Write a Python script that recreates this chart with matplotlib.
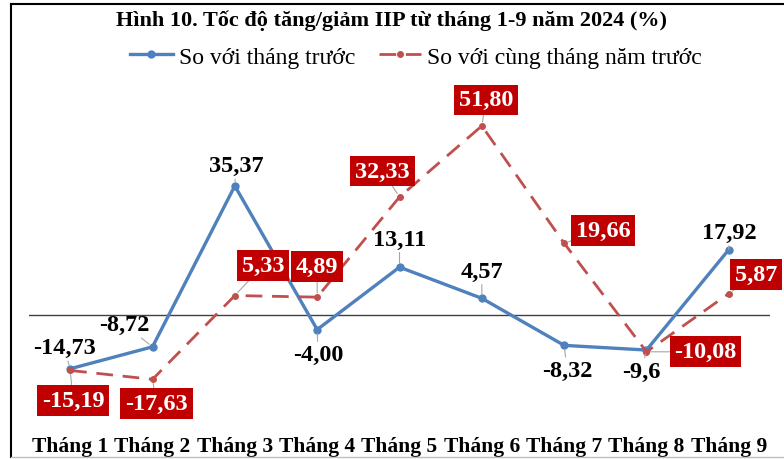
import matplotlib.pyplot as plt
from matplotlib.lines import Line2D

months = ["Tháng 1", "Tháng 2", "Tháng 3", "Tháng 4", "Tháng 5",
          "Tháng 6", "Tháng 7", "Tháng 8", "Tháng 9"]
mom = [-14.73, -8.72, 35.37, -4.00, 13.11, 4.57, -8.32, -9.6, 17.92]
yoy = [-15.19, -17.63, 5.33, 4.89, 32.33, 51.80, 19.66, -10.08, 5.87]
mom_labels = ["-14,73", "-8,72", "35,37", "-4,00", "13,11", "4,57", "-8,32", "-9,6", "17,92"]
yoy_labels = ["-15,19", "-17,63", "5,33", "4,89", "32,33", "51,80", "19,66", "-10,08", "5,87"]

# label offsets in pixels (dx, dy)
mom_off = [(-6, 21), (-28, 22), (1, 20), (1, -25), (0, 28), (0, 27), (3, -25), (-5, -21), (0, 17)]
yoy_off = [(3, -30), (4, -24), (28, 30), (0, 31), (-17, 26), (4, 26), (39, 13), (59, 0), (27, 19)]

blue = "#4F81BD"
red = "#C0504D"
serif = ["Liberation Serif", "DejaVu Serif"]

W, H = 784, 460
fig = plt.figure(figsize=(W / 100, H / 100), dpi=100)

# outer frame (left/top dark, bottom light)
fig.add_artist(Line2D([11 / W, 11 / W], [2 / H, 1 - 5 / H], color="black", lw=1.5, transform=fig.transFigure))
fig.add_artist(Line2D([11 / W, 1], [1 - 5 / H, 1 - 5 / H], color="black", lw=1.5, transform=fig.transFigure))
fig.add_artist(Line2D([11 / W, 1], [2 / H, 2 / H], color="#BFBFBF", lw=1, transform=fig.transFigure))

top, bottom = 78.75, 425.5
ax = fig.add_axes([29 / W, (H - bottom) / H, 741 / W, (bottom - top) / H])
ax.set_xlim(-0.5, 8.5)
ax.set_ylim(-30, 65)
ax.axhline(0, color="#404040", lw=1)
for s in ax.spines.values():
    s.set_visible(False)
ax.set_yticks([])
x = list(range(len(months)))
ax.set_xticks(x)
ax.set_xticklabels(months, fontfamily=serif, fontweight="bold", fontsize=15.5)
ax.tick_params(axis="x", length=0, pad=8)

l1, = ax.plot(x, mom, color=blue, lw=2.4, marker="o", ms=5, label="So với tháng trước")
l2, = ax.plot(x, yoy, color=red, lw=2, ls=(0, (6, 3.5)), marker="o", ms=4, label="So với cùng tháng năm trước")

for i in x:
    ax.annotate(mom_labels[i], xy=(i, mom[i]), xytext=mom_off[i], textcoords="offset pixels",
                ha="center", va="center", fontfamily=serif, fontweight="bold", fontsize=17.5,
                color="black",
                arrowprops=dict(arrowstyle="-", color="#A6A6A6", lw=0.8, shrinkA=0, shrinkB=3))
    ax.annotate(yoy_labels[i], xy=(i, yoy[i]), xytext=yoy_off[i], textcoords="offset pixels",
                ha="center", va="center", fontfamily=serif, fontweight="bold", fontsize=17.5,
                color="white",
                bbox=dict(boxstyle="square,pad=0.2", fc="#C00000", ec="none"),
                arrowprops=dict(arrowstyle="-", color="#A6A6A6", lw=0.8, shrinkA=0, shrinkB=3))

fig.text(392 / W, 1 - 21 / H, "Hình 10. Tốc độ tăng/giảm IIP từ tháng 1-9 năm 2024 (%)",
         ha="center", va="center", fontfamily=serif, fontweight="bold", fontsize=16)
leg = fig.legend(handles=[l1, l2], loc="center", bbox_to_anchor=(416 / W, 1 - 58 / H), ncol=2,
                 frameon=False, handlelength=1.8, handletextpad=0.25, columnspacing=1.0,
                 prop={"family": serif, "size": 17})

fig.savefig("out.png", dpi=100)
